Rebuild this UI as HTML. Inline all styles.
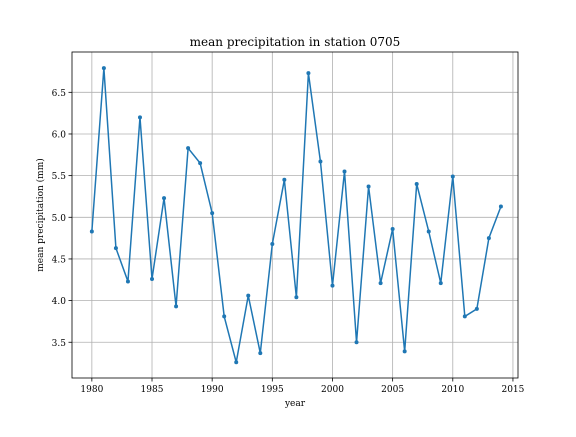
<!DOCTYPE html>
<html><head><meta charset="utf-8"><style>
body{margin:0;background:#fff}
svg text{font-family:"DejaVu Serif","Liberation Serif",serif;fill:#000}
</style></head><body>
<svg id="chart" width="576" height="432" xmlns="http://www.w3.org/2000/svg"></svg>
<script>
const years=[1980,1981,1982,1983,1984,1985,1986,1987,1988,1989,1990,1991,1992,1993,1994,1995,1996,1997,1998,1999,2000,2001,2002,2003,2004,2005,2006,2007,2008,2009,2010,2011,2012,2013,2014];
const precip=[4.83,6.79,4.63,4.23,6.20,4.26,5.23,3.93,5.83,5.65,5.05,3.81,3.26,4.06,3.37,4.68,5.45,4.04,6.73,5.67,4.18,5.55,3.50,5.37,4.21,4.86,3.39,5.40,4.83,4.21,5.49,3.81,3.90,4.75,5.13];
const xTicks=[1980,1985,1990,1995,2000,2005,2010,2015];
const yTicks=[3.5,4.0,4.5,5.0,5.5,6.0,6.5];
const L=72,R=518,T=52,B=378;
const xMin=1978.35,xMax=2015.42,yMin=3.071,yMax=6.984;
const sx=v=>L+(v-xMin)/(xMax-xMin)*(R-L);
const sy=v=>B-(v-yMin)/(yMax-yMin)*(B-T);
const svg=document.getElementById('chart');const NS='http://www.w3.org/2000/svg';
function mk(t,a,txt){const e=document.createElementNS(NS,t);for(const k in a)e.setAttribute(k,a[k]);if(txt!==undefined)e.textContent=txt;svg.appendChild(e);return e;}
xTicks.forEach(v=>{const x=sx(v);
const g=mk('line',{x1:x,x2:x,y1:T,y2:B,stroke:'#b0b0b0','stroke-width':0.8});


mk('line',{x1:x,x2:x,y1:B,y2:B+3.5,stroke:'#000','stroke-width':0.8});
const t=mk('text',{x:x,y:B+14,'font-size':9,'text-anchor':'middle'},String(v));

});
yTicks.forEach(v=>{const y=sy(v);
const g=mk('line',{x1:L,x2:R,y1:y,y2:y,stroke:'#b0b0b0','stroke-width':0.8});


mk('line',{x1:L-3.5,x2:L,y1:y,y2:y,stroke:'#000','stroke-width':0.8});
const t=mk('text',{x:L-6,y:y+3.5,'font-size':9,'text-anchor':'end'},v.toFixed(1));

});
const pts=years.map((y,i)=>sx(y)+','+sy(precip[i])).join(' ');
const line=mk('polyline',{points:pts,fill:'none',stroke:'#1f77b4','stroke-width':1.5});


years.forEach((y,i)=>{const c=mk('circle',{cx:sx(y),cy:sy(precip[i]),r:2,fill:'#1f77b4'});

});
const fr=mk('rect',{x:L,y:T,width:R-L,height:B-T,fill:'none',stroke:'#000','stroke-width':0.8});


const ti=mk('text',{x:(L+R)/2,y:T-6,'font-size':12,'text-anchor':'middle'},'mean precipitation in station 0705');


const xl=mk('text',{x:(L+R)/2,y:B+28,'font-size':9,'text-anchor':'middle'},'year');


const yl=mk('text',{x:0,y:0,'font-size':9,'text-anchor':'middle',transform:`translate(43,${(T+B)/2}) rotate(-90)`},'mean precipitation (mm)');


</script>
</body></html>
